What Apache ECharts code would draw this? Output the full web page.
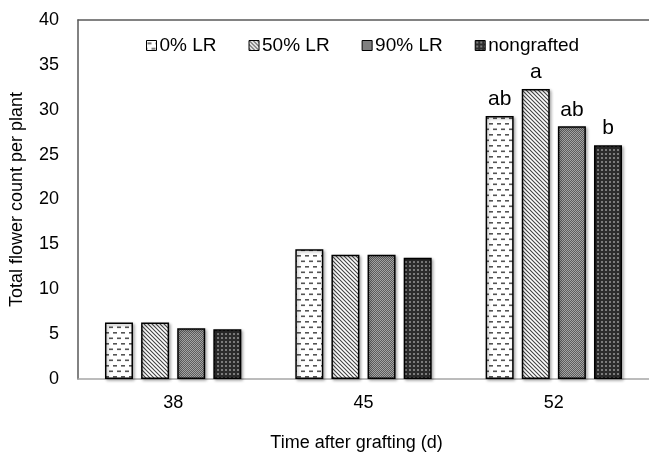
<!DOCTYPE html>
<html>
<head>
<meta charset="utf-8">
<script src="https://cdn.jsdelivr.net/npm/echarts@6/dist/echarts.min.js"></script>
<style>html,body{margin:0;padding:0;background:#fff;}#c{width:649px;height:457px;}</style>
</head>
<body>
<div id="c"></div>
<script>
var categories = ['38', '45', '52'];
var seriesNames = ['0% LR', '50% LR', '90% LR', 'nongrafted'];
var lr0 = [6.3, 14.45, 29.3];
var lr50 = [6.3, 13.85, 32.3];
var lr90 = [5.65, 13.85, 28.15];
var nongrafted = [5.55, 13.5, 26.05];
var letters0 = ['', '', 'ab'];
var letters50 = ['', '', 'a'];
var letters90 = ['', '', 'ab'];
var lettersNG = ['', '', 'b'];
var yTicks = [0, 5, 10, 15, 20, 25, 30, 35, 40];

function mk(w, h, draw) {
  var c = document.createElement('canvas');
  c.width = w; c.height = h;
  var ctx = c.getContext('2d');
  draw(ctx);
  return { image: c, repeat: 'repeat' };
}
var patDash = mk(8, 11, function (ctx) {
  ctx.fillStyle = '#fff'; ctx.fillRect(0, 0, 8, 11);
  ctx.fillStyle = '#555';
  ctx.fillRect(1, 2, 4, 1.6);
  ctx.fillRect(5, 7.5, 3, 1.6);
  ctx.fillRect(0, 7.5, 1, 1.6);
});
var patDiag = mk(4, 4, function (ctx) {
  ctx.fillStyle = '#fff'; ctx.fillRect(0, 0, 4, 4);
  ctx.strokeStyle = '#444'; ctx.lineWidth = 1.1;
  ctx.beginPath();
  ctx.moveTo(-1, -1); ctx.lineTo(5, 5);
  ctx.moveTo(-1, 3); ctx.lineTo(1, 5);
  ctx.moveTo(3, -1); ctx.lineTo(5, 1);
  ctx.stroke();
});
var patChk = mk(2, 2, function (ctx) {
  ctx.fillStyle = '#5c5c5c'; ctx.fillRect(0, 0, 2, 2);
  ctx.fillStyle = '#a4a4a4'; ctx.fillRect(0, 0, 1, 1); ctx.fillRect(1, 1, 1, 1);
});
var patDot = mk(4, 4, function (ctx) {
  ctx.fillStyle = '#2c2c2c'; ctx.fillRect(0, 0, 4, 4);
  ctx.fillStyle = '#7c7c7c'; ctx.fillRect(1, 1, 2, 2);
});

var pats = [patDash, patDiag, patChk, patDot];
var vals = [lr0, lr50, lr90, nongrafted];
var lets = [letters0, letters50, letters90, lettersNG];

var series = seriesNames.map(function (n, i) {
  return {
    name: n, type: 'bar', barWidth: 28, barGap: '29%',
    data: vals[i].map(function (v, j) { return { value: v, lab: lets[i][j] }; }),
    itemStyle: {
      color: pats[i], borderColor: '#000', borderWidth: 1.5,
      shadowColor: 'rgba(0,0,0,0.3)', shadowBlur: 3, shadowOffsetX: 1.5, shadowOffsetY: 1.5
    },
    label: {
      show: true, position: 'top', distance: 6, color: '#000',
      fontFamily: 'Liberation Sans, Arial', fontSize: 21,
      formatter: function (p) { return p.data.lab; }
    }
  };
});

var chart = echarts.init(document.getElementById('c'), null, { renderer: 'canvas', devicePixelRatio: 1 });
chart.setOption({
  animation: false,
  backgroundColor: '#fff',
  textStyle: { fontFamily: 'Liberation Sans, Arial' },
  grid: { left: 73, right: 0, top: 20, bottom: 69, containLabel: false },
  legend: {
    data: seriesNames, left: 141, top: 31, itemWidth: 10, itemHeight: 10, itemGap: 32,
    icon: 'rect',
    textStyle: { fontSize: 19, color: '#000', padding: [0, 0, 0, -2] },
    itemStyle: { borderColor: '#000', borderWidth: 1 }
  },
  xAxis: [{
    type: 'category', data: categories,
    name: 'Time after grafting (d)', nameLocation: 'middle', nameGap: 55,
    nameTextStyle: { fontSize: 18, color: '#000', padding: [0, 14, 0, 0] },
    axisLine: { lineStyle: { color: '#a6a6a6', width: 1.5 } },
    axisTick: { show: false },
    axisLabel: { fontSize: 18, color: '#000', margin: 15 }
  }, {
    type: 'category', data: categories, position: 'top',
    axisLine: { show: true, lineStyle: { color: '#595959', width: 1.5 } },
    axisTick: { show: false }, axisLabel: { show: false }
  }],
  yAxis: {
    type: 'value', min: yTicks[0], max: yTicks[yTicks.length - 1], interval: 5,
    name: 'Total flower count per plant', nameLocation: 'middle', nameGap: 52,
    nameTextStyle: { fontSize: 18, color: '#000' },
    axisLine: { show: true, lineStyle: { color: '#595959', width: 1.5 } },
    axisTick: { show: false },
    splitLine: { show: false },
    axisLabel: { fontSize: 18, color: '#000', margin: 19 }
  },
  series: series
});
</script>
</body>
</html>
